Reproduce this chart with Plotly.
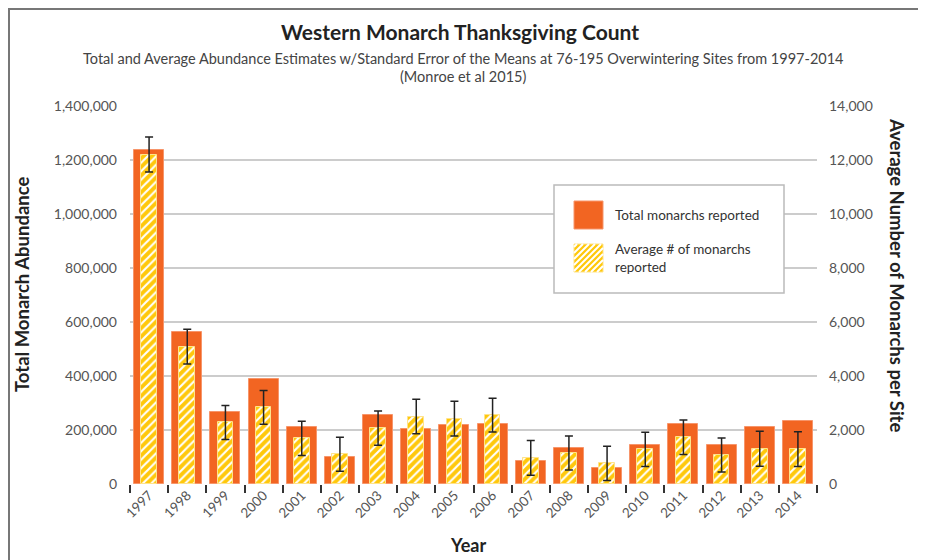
import plotly.graph_objects as go

# ---------------- data ----------------
years = [str(y) for y in range(1997, 2015)]
total_monarchs = [1235490, 564349, 267574, 390057, 209570, 99353, 254378, 205085, 218679,
                  221058, 86437, 131889, 58468, 143204, 222525, 144812, 211275, 234731]
avg_monarchs = [12200, 5090, 2280, 2840, 1690, 1100, 2070, 2500, 2420,
                2550, 970, 1150, 765, 1280, 1730, 1070, 1310, 1290]
avg_se = [648, 643, 630, 623, 630, 630, 636, 642, 642,
          623, 642, 629, 636, 636, 642, 630, 648, 642]
left_ticks = [0, 200000, 400000, 600000, 800000, 1000000, 1200000, 1400000]
right_ticks = [0, 2000, 4000, 6000, 8000, 10000, 12000, 14000]

# ---------------- style ----------------
OFF = 8                      # page body margin
W, H = 926 - OFF, 560 - OFF  # figure size
L, R, T, B = 130, 817, 106, 484  # plot area in page pixels
FONT = "Lato"
ORANGE = "#F26522"
YELLOW = "#FFC80B"
TXT = "#555555"


def px(x):
    return (x - L) / (R - L)


def py(y):
    return (B - y) / (B - T)


fig = go.Figure()
fig.add_trace(go.Bar(
    x=years, y=total_monarchs, name="Total monarchs reported", yaxis="y",
    width=0.79,
    marker=dict(color=ORANGE, line=dict(color="#F7956A", width=1)),
    showlegend=False,
))
fig.add_trace(go.Bar(
    x=years, y=avg_monarchs, name="Average # of monarchs reported", yaxis="y2",
    width=0.41,
    marker=dict(color=YELLOW, line=dict(color="#FFE38A", width=1),
                pattern=dict(shape="/", fgcolor="white", bgcolor=YELLOW,
                             size=6, solidity=0.35, fillmode="replace")),
    error_y=dict(type="data", array=avg_se, color="#222222", thickness=1.5, width=4),
    showlegend=False,
))

shapes = []
annotations = []

# outer frame (top and left), at the figure's edge
shapes.append(dict(type="line", xref="paper", yref="paper", x0=px(OFF + 1), x1=px(W + OFF),
                   y0=py(OFF + 1), y1=py(OFF + 1), line=dict(color="#777777", width=2)))
shapes.append(dict(type="line", xref="paper", yref="paper", x0=px(OFF + 1), x1=px(OFF + 1),
                   y0=py(OFF), y1=py(H + OFF), line=dict(color="#777777", width=2)))

# manual legend
shapes.append(dict(type="rect", xref="paper", yref="paper", x0=px(554), x1=px(784),
                   y0=py(293), y1=py(185), fillcolor="white",
                   line=dict(color="#BBBBBB", width=1.5), layer="above"))
shapes.append(dict(type="rect", xref="paper", yref="paper", x0=px(574), x1=px(603),
                   y0=py(229), y1=py(201), fillcolor=ORANGE,
                   line=dict(color="#F7956A", width=1), layer="above"))
sx0, sx1, sy0, sy1 = 574, 603, 244, 272
shapes.append(dict(type="rect", xref="paper", yref="paper", x0=px(sx0), x1=px(sx1),
                   y0=py(sy1), y1=py(sy0), fillcolor=YELLOW,
                   line=dict(color="#FFE38A", width=1), layer="above"))
w, h = sx1 - sx0, sy1 - sy0
c = -h + 3
while c < w - 1:
    ua = max(0, c); va = ua - c
    ub = min(w, h + c); vb = ub - c
    shapes.append(dict(type="line", xref="paper", yref="paper",
                       x0=px(sx0 + ua), y0=py(sy1 - va), x1=px(sx0 + ub), y1=py(sy1 - vb),
                       line=dict(color="white", width=2), layer="above"))
    c += 6

annotations.append(dict(xref="paper", yref="paper", x=px(613), y=py(215), text="Total monarchs reported",
                        showarrow=False, xanchor="left", yanchor="middle",
                        font=dict(family=FONT, size=13.5, color="#333333")))
annotations.append(dict(xref="paper", yref="paper", x=px(613), y=py(258),
                        text="Average # of monarchs<br>reported", align="left",
                        showarrow=False, xanchor="left", yanchor="middle",
                        font=dict(family=FONT, size=13.5, color="#333333")))

# titles
annotations.append(dict(xref="paper", yref="paper", x=px(460), y=py(32),
                        text="<b>Western Monarch Thanksgiving Count</b>", showarrow=False,
                        xanchor="center", yanchor="middle",
                        font=dict(family=FONT, size=21, color="#222222")))
annotations.append(dict(xref="paper", yref="paper", x=px(463), y=py(58),
                        text="Total and Average Abundance Estimates w/Standard Error of the Means at 76-195 Overwintering Sites from 1997-2014",
                        showarrow=False, xanchor="center", yanchor="middle",
                        font=dict(family=FONT, size=14.5, color="#444444")))
annotations.append(dict(xref="paper", yref="paper", x=px(463), y=py(76),
                        text="(Monroe et al 2015)", showarrow=False,
                        xanchor="center", yanchor="middle",
                        font=dict(family=FONT, size=14.5, color="#444444")))
annotations.append(dict(xref="paper", yref="paper", x=px(22), y=py(285),
                        text="<b>Total Monarch Abundance</b>", textangle=-90, showarrow=False,
                        xanchor="center", yanchor="middle",
                        font=dict(family=FONT, size=18.5, color="#222222")))
annotations.append(dict(xref="paper", yref="paper", x=px(897), y=py(275),
                        text="<b>Average Number of Monarchs per Site</b>", textangle=90, showarrow=False,
                        xanchor="center", yanchor="middle",
                        font=dict(family=FONT, size=18.5, color="#222222")))
annotations.append(dict(xref="paper", yref="paper", x=px(468), y=py(545),
                        text="<b>Year</b>", showarrow=False,
                        xanchor="center", yanchor="middle",
                        font=dict(family=FONT, size=18, color="#222222")))

fig.update_layout(
    width=W, height=H, autosize=False,
    margin=dict(l=L - OFF, r=W - (R - OFF), t=T - OFF, b=H - (B - OFF), pad=0),
    paper_bgcolor="white", plot_bgcolor="white",
    barmode="overlay", bargap=0,
    font=dict(family=FONT, size=13, color=TXT),
    shapes=shapes, annotations=annotations,
    showlegend=False,
    xaxis=dict(type="category", tickson="boundaries", ticks="outside", ticklen=8,
               tickwidth=1.5, tickcolor="#333333", tickangle=-45,
               tickfont=dict(family=FONT, size=13.5, color=TXT),
               showgrid=False, showline=False, zeroline=False),
    yaxis=dict(range=[0, 1400000], tickvals=left_ticks, tickformat=",",
               showgrid=True, gridcolor="#CCCCCC", gridwidth=1.5,
               zeroline=False, showline=False, ticks="",
               ticklabelstandoff=12,
               tickfont=dict(family=FONT, size=14, color=TXT)),
    yaxis2=dict(range=[0, 14000], tickvals=right_ticks, tickformat=",",
                overlaying="y", side="right", showgrid=False,
                zeroline=False, showline=False, ticks="",
                ticklabelstandoff=11,
                tickfont=dict(family=FONT, size=14, color=TXT)),
)

fig.write_html("out.html")
